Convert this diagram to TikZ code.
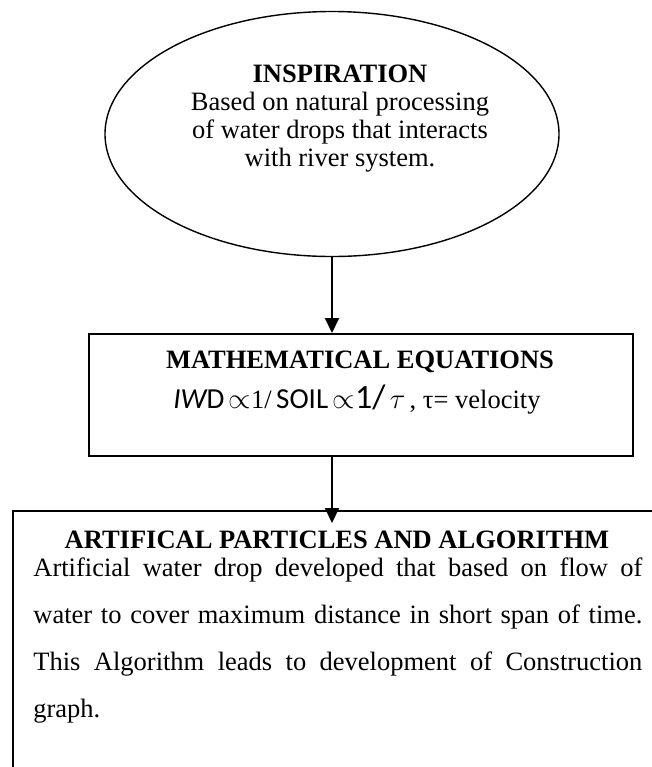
\documentclass[tikz,border=0pt]{standalone}
\usepackage{fontspec}
\setmainfont{Liberation Serif}
\newfontfamily\calfont{Carlito}
\usetikzlibrary{arrows.meta,shapes.geometric}

\begin{document}
\begin{tikzpicture}[
    x=0.5pt, y=-0.5pt,
    font=\fontsize{13.25}{14}\selectfont,
    flow/.style={-{Triangle[length=7.5pt,width=7pt]}, line width=1pt, draw=black},
    bubble/.style={
        ellipse,
        draw=black,
        line width=0.7pt,
        minimum width=227pt,
        minimum height=122.5pt,
        inner sep=0pt
    },
    frame/.style={
        rectangle,
        draw=black,
        anchor=north west,
        inner sep=0pt
    },
    caption/.style={
        align=center,
        inner sep=0pt
    }
]

\useasboundingbox (0,0) rectangle (652,767);
\clip (0,0) rectangle (652,767);

% =========================================================
% Shapes
% =========================================================
\node[bubble] (insp) at (332,134) {};
\node[frame, line width=1.2pt, minimum width=272pt, minimum height=61pt] (math) at (88,333) {};
\node[frame, line width=1pt, minimum width=334pt, minimum height=145pt] (algo) at (12,510) {};

% =========================================================
% Texts
% =========================================================
\node[caption, anchor=north] (insptext) at (340,65)
    {\textbf{INSPIRATION}\\Based on natural processing\\of water drops that interacts\\with river system.};

\node[caption, anchor=base] (mathtitle) at (360,368) {\textbf{MATHEMATICAL EQUATIONS}};
\node[caption, anchor=base] (matheq) at (357,408)
    {{\calfont\fontsize{14.5}{14.5}\selectfont{\itshape IW}D}\,$\propto$1/\,{\calfont\fontsize{14.5}{14.5}\selectfont SOIL}\,$\propto${\calfont\fontsize{17}{17}\selectfont 1/}\,$\tau$\,, τ= velocity};

\node[caption, anchor=base] (algotitle) at (337,548) {\textbf{ARTIFICAL PARTICLES AND ALGORITHM}};
\node[anchor=north west, inner sep=0pt, text width=304.5pt, align=justify,
      font=\fontsize{13.25}{23.5}\selectfont] (algotext) at (33,557)
    {Artificial water drop developed that based on flow of\linebreak
     water to cover maximum distance in short span of time.\linebreak
     This Algorithm leads to development of Construction\linebreak
     graph.};

% =========================================================
% Arrows
% =========================================================
\coordinate (tip) at (332,523);
\draw[flow] (insp.south) -- (insp.south |- math.north);
\draw[flow] (insp.south |- math.south) -- (tip);

\end{tikzpicture}
\end{document}
